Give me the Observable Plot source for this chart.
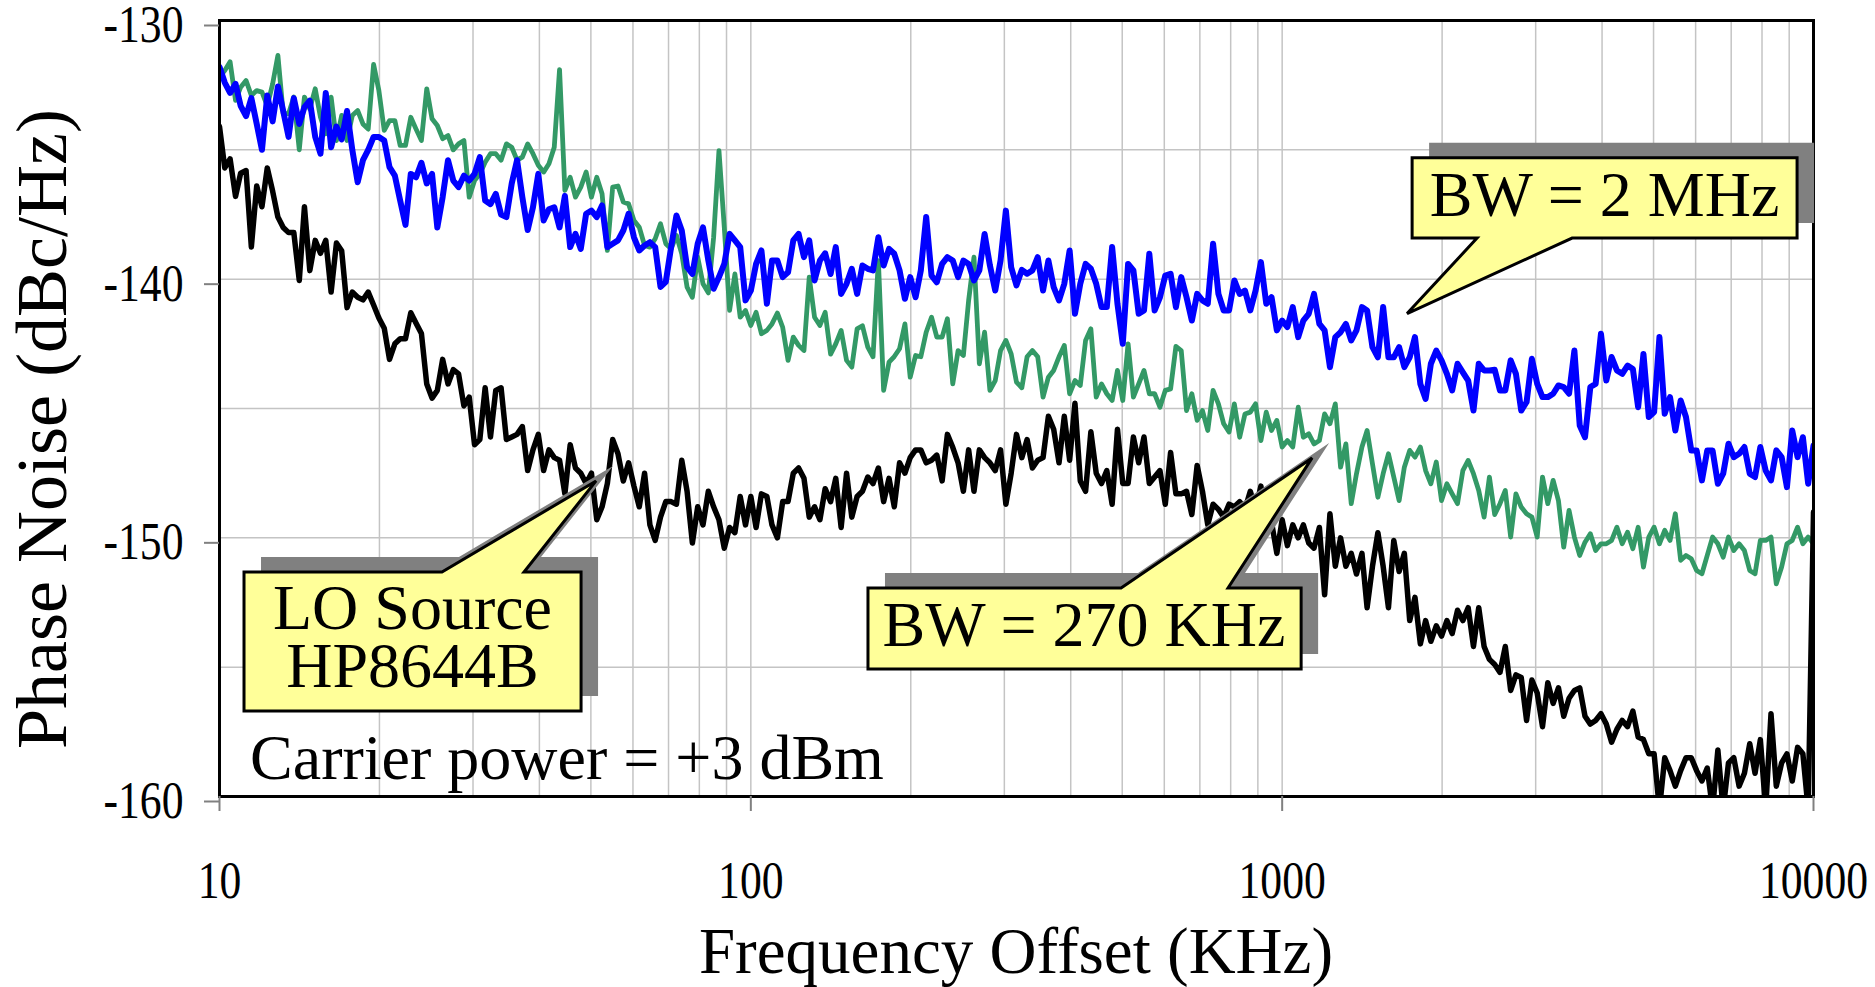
<!DOCTYPE html>
<html>
<head>
<meta charset="utf-8">
<script src="https://cdn.jsdelivr.net/npm/d3@7"></script>
<script src="https://cdn.jsdelivr.net/npm/@observablehq/plot@0.6"></script>
<style>
html, body { margin: 0; padding: 0; background: #ffffff; }
#chart { width: 1875px; height: 987px; }
</style>
</head>
<body>
<div id="chart"></div>
<script>
// Frequency offset (kHz) at which the three traces were read
const freqKHz = [
10, 10.23, 10.47, 10.72, 10.96, 11.22, 11.48, 11.75, 12.02, 12.3,
12.59, 12.88, 13.18, 13.49, 13.8, 14.13, 14.45, 14.79, 15.14, 15.49,
15.85, 16.22, 16.6, 16.98, 17.38, 17.78, 18.2, 18.62, 19.05, 19.5,
19.95, 20.42, 20.89, 21.38, 21.88, 22.39, 22.91, 23.44, 23.99, 24.55,
25.12, 25.7, 26.3, 26.92, 27.54, 28.18, 28.84, 29.51, 30.2, 30.9,
31.62, 32.36, 33.11, 33.88, 34.67, 35.48, 36.31, 37.15, 38.02, 38.9,
39.81, 40.74, 41.69, 42.66, 43.65, 44.67, 45.71, 46.77, 47.86, 48.98,
50.12, 51.29, 52.48, 53.7, 54.95, 56.23, 57.54, 58.88, 60.26, 61.66,
63.1, 64.57, 66.07, 67.61, 69.18, 70.79, 72.44, 74.13, 75.86, 77.62,
79.43, 81.28, 83.18, 85.11, 87.1, 89.13, 91.2, 93.33, 95.5, 97.72,
100, 102.3, 104.7, 107.2, 109.6, 112.2, 114.8, 117.5, 120.2, 123,
125.9, 128.8, 131.8, 134.9, 138, 141.3, 144.5, 147.9, 151.4, 154.9,
158.5, 162.2, 166, 169.8, 173.8, 177.8, 182, 186.2, 190.5, 195,
199.5, 204.2, 208.9, 213.8, 218.8, 223.9, 229.1, 234.4, 239.9, 245.5,
251.2, 257, 263, 269.2, 275.4, 281.8, 288.4, 295.1, 302, 309,
316.2, 323.6, 331.1, 338.8, 346.7, 354.8, 363.1, 371.5, 380.2, 389,
398.1, 407.4, 416.9, 426.6, 436.5, 446.7, 457.1, 467.7, 478.6, 489.8,
501.2, 512.9, 524.8, 537, 549.5, 562.3, 575.4, 588.8, 602.6, 616.6,
631, 645.7, 660.7, 676.1, 691.8, 707.9, 724.4, 741.3, 758.6, 776.2,
794.3, 812.8, 831.8, 851.1, 871, 891.3, 912, 933.3, 955, 977.2,
1000, 1023, 1047, 1072, 1096, 1122, 1148, 1175, 1202, 1230,
1259, 1288, 1318, 1349, 1380, 1413, 1445, 1479, 1514, 1549,
1585, 1622, 1660, 1698, 1738, 1778, 1820, 1862, 1905, 1950,
1995, 2042, 2089, 2138, 2188, 2239, 2291, 2344, 2399, 2455,
2512, 2570, 2630, 2692, 2754, 2818, 2884, 2951, 3020, 3090,
3162, 3236, 3311, 3388, 3467, 3548, 3631, 3715, 3802, 3890,
3981, 4074, 4169, 4266, 4365, 4467, 4571, 4677, 4786, 4898,
5012, 5129, 5248, 5370, 5495, 5623, 5754, 5888, 6026, 6166,
6310, 6457, 6607, 6761, 6918, 7079, 7244, 7413, 7586, 7762,
7943, 8128, 8318, 8511, 8710, 8913, 9120, 9333, 9550, 9772,
10000
];

// LO Source HP8644B (black), dBc/Hz
const loSource = [
-134.1, -135.7, -135.35, -136.8, -135.9, -135.8, -138.76, -136.4, -137.2, -135.7,
-136.6, -137.6, -138.0, -138.2, -138.2, -140.05, -137.2, -139.67, -138.5, -139.0,
-138.5, -140.5, -138.6, -138.9, -141.1, -140.5, -140.7, -140.8, -140.5, -141.0,
-141.5, -141.9, -143.1, -142.5, -142.3, -142.3, -141.3, -141.7, -142.1, -144.05,
-144.6, -144.3, -143.1, -144.05, -143.5, -143.66, -144.9, -144.56, -146.4, -146.2,
-144.2, -146.1, -144.3, -144.2, -146.2, -146.1, -146.0, -145.7, -147.4, -146.6,
-146.0, -147.4, -146.6, -146.9, -147.0, -148.3, -146.4, -147.3, -147.5, -147.9,
-147.5, -149.3, -148.8, -147.9, -146.2, -146.75, -147.8, -147.1, -148.0, -148.8,
-147.5, -149.5, -150.1, -149.2, -148.6, -148.6, -148.7, -147.0, -148.2, -150.2,
-148.8, -149.5, -148.2, -148.8, -149.3, -150.4, -149.6, -149.8, -148.4, -149.5,
-148.4, -149.6, -148.3, -148.4, -149.5, -150.0, -148.6, -148.6, -147.5, -147.3,
-147.7, -149.2, -148.8, -149.3, -148.1, -148.6, -147.7, -149.6, -147.5, -149.2,
-148.4, -148.2, -147.65, -147.9, -147.3, -148.6, -147.7, -148.8, -147.1, -147.5,
-146.9, -146.6, -146.6, -147.1, -147.0, -146.8, -147.8, -146.0, -146.5, -147.1,
-148.2, -146.6, -148.2, -146.6, -146.9, -147.1, -147.4, -146.6, -148.7, -147.5,
-146.0, -146.9, -146.2, -147.3, -147.0, -146.9, -145.3, -145.8, -147.1, -145.3,
-147.0, -144.8, -147.8, -148.2, -145.9, -147.5, -147.9, -147.4, -148.7, -145.8,
-147.9, -147.9, -146.1, -147.1, -146.1, -147.9, -147.65, -147.4, -148.7, -146.7,
-148.3, -148.3, -148.2, -149.1, -147.2, -148.2, -149.5, -148.7, -148.9, -149.2,
-148.7, -148.8, -148.6, -148.9, -148.2, -148.9, -148.0, -149.5, -149.4, -150.6,
-149.3, -150.3, -149.5, -150.0, -149.5, -150.2, -150.4, -149.6, -152.2, -149.07,
-151.1, -150.0, -151.1, -150.6, -151.4, -150.6, -152.7, -151.1, -149.8, -151.1,
-152.7, -150.1, -151.3, -150.6, -153.2, -152.3, -154.1, -153.2, -154.0, -153.4,
-153.8, -153.2, -153.7, -152.8, -153.2, -152.7, -154.2, -152.7, -154.2, -154.7,
-154.9, -155.2, -154.2, -155.9, -155.3, -155.4, -157.06, -155.5, -156.0, -157.3,
-155.6, -156.4, -155.8, -156.9, -156.2, -155.9, -155.8, -156.9, -157.2, -157.06,
-156.8, -157.2, -157.9, -157.4, -157.06, -157.3, -156.7, -157.7, -157.8, -158.35,
-158.35, -160.5, -158.5, -159.0, -159.6, -159.0, -158.5, -158.5, -159.0, -159.4,
-158.9, -160.5, -158.2, -160.5, -158.7, -158.5, -159.6, -159.1, -157.96, -159.1,
-157.8, -160.5, -156.8, -159.6, -158.7, -158.35, -159.4, -158.1, -158.35, -160.5,
-149.0
];

// BW = 2 MHz (blue), dBc/Hz
const bw2MHz = [
-131.8, -132.4, -132.8, -132.45, -133.3, -133.7, -133.0, -134.0, -135.0, -132.9,
-133.9, -132.55, -133.5, -134.5, -133.0, -134.0, -133.35, -133.1, -134.5, -135.15,
-132.8, -134.9, -134.1, -134.6, -133.5, -135.0, -136.25, -135.4, -135.0, -134.5,
-134.5, -134.64, -135.67, -136.0, -136.96, -137.9, -135.93, -136.06, -135.5, -136.3,
-135.93, -138.0, -136.83, -135.4, -136.19, -136.44, -136.0, -136.19, -135.93, -135.28,
-136.96, -137.1, -136.7, -137.5, -137.6, -136.3, -135.4, -136.83, -138.1, -137.22,
-135.93, -137.73, -137.3, -137.22, -138.0, -136.78, -138.76, -138.25, -138.83, -137.47,
-137.35, -137.6, -137.15, -138.76, -138.63, -138.5, -138.12, -137.47, -138.38, -138.89,
-138.7, -138.57, -138.76, -140.3, -140.1, -138.76, -137.54, -138.12, -139.54, -139.8,
-138.63, -138.0, -139.28, -140.37, -139.92, -139.41, -138.25, -138.5, -138.76, -140.82,
-140.44, -139.41, -138.89, -140.95, -139.28, -139.28, -139.92, -139.73, -138.5, -138.25,
-139.15, -138.5, -140.05, -139.28, -139.0, -139.8, -138.76, -140.57, -140.18, -139.6,
-140.57, -139.47, -139.6, -139.66, -138.38, -139.47, -138.83, -139.02, -139.66, -140.76,
-139.92, -140.7, -139.66, -137.6, -139.86, -140.12, -139.41, -139.15, -139.28, -139.92,
-139.28, -139.41, -140.05, -139.66, -138.25, -139.47, -140.44, -139.28, -137.35, -139.54,
-140.24, -139.64, -139.79, -139.66, -139.15, -140.44, -139.28, -140.31, -140.82, -140.18,
-138.89, -141.34, -140.18, -139.41, -139.6, -140.18, -141.08, -141.08, -138.76, -140.95,
-142.5, -139.41, -139.66, -141.34, -141.21, -139.02, -141.21, -140.7, -139.86, -139.79,
-141.08, -139.92, -140.7, -141.6, -140.57, -140.82, -140.95, -138.63, -140.57, -141.21,
-141.21, -140.05, -140.57, -140.44, -141.21, -140.44, -139.34, -140.95, -140.7, -141.98,
-141.6, -141.85, -141.08, -142.24, -141.6, -141.34, -140.57, -141.73, -141.98, -143.4,
-142.24, -142.05, -141.73, -142.37, -141.98, -141.08, -141.21, -142.63, -143.02, -141.08,
-143.02, -143.02, -142.63, -143.4, -143.02, -142.24, -144.05, -144.63, -143.27, -142.76,
-143.14, -143.66, -144.3, -143.27, -143.6, -143.92, -145.08, -143.27, -143.53, -143.53,
-143.5, -144.3, -144.3, -143.14, -143.66, -145.08, -144.75, -143.08, -144.05, -144.56,
-144.56, -144.43, -144.11, -144.17, -144.43, -142.76, -145.66, -146.11, -144.17, -144.05,
-142.11, -143.92, -143.01, -143.53, -143.66, -143.34, -143.47, -144.95, -142.89, -145.33,
-145.14, -142.24, -145.2, -144.56, -145.85, -144.69, -145.33, -146.62, -146.62, -147.78,
-146.62, -146.62, -147.91, -147.52, -146.36, -146.88, -146.75, -146.49, -147.52, -147.65,
-146.49, -147.4, -147.78, -146.62, -146.88, -148.04, -145.85, -146.88, -146.11, -147.91,
-146.43
];

// BW = 270 KHz (green), dBc/Hz
const bw270kHz = [
-132.19, -131.93, -131.6, -133.09, -132.58, -132.32, -132.9, -132.71, -132.77, -133.3,
-132.45, -131.35, -133.6, -133.6, -132.96, -135.0, -132.96, -133.42, -132.64, -133.74,
-134.38, -132.96, -134.64, -133.67, -134.64, -133.67, -133.48, -134.0, -134.2, -131.7,
-132.71, -134.25, -133.87, -133.87, -134.83, -134.83, -133.74, -134.2, -134.64, -132.64,
-133.8, -134.06, -134.57, -134.45, -135.0, -134.77, -134.64, -136.83, -136.19, -135.93,
-135.48, -135.15, -135.15, -135.4, -134.77, -134.9, -135.4, -135.28, -134.77, -135.15,
-135.6, -135.86, -135.54, -134.9, -131.9, -136.57, -136.06, -136.83, -136.44, -135.86,
-136.83, -136.06, -136.7, -138.89, -136.44, -136.4, -137.02, -137.09, -137.73, -137.99,
-138.7, -138.76, -138.44, -137.86, -138.63, -138.83, -138.31, -139.02, -140.31, -140.7,
-139.15, -140.18, -140.53, -138.38, -135.03, -137.99, -141.21, -139.8, -141.47, -141.21,
-141.79, -141.28, -142.11, -141.98, -141.73, -141.31, -141.86, -143.14, -142.24, -142.56,
-142.76, -139.92, -141.47, -141.79, -141.28, -142.9, -142.5, -141.98, -143.14, -143.4,
-141.92, -141.8, -142.63, -143.0, -139.28, -144.3, -143.21, -142.99, -142.69, -141.73,
-143.79, -142.95, -143.0, -142.05, -141.47, -142.24, -142.24, -141.53, -144.05, -142.76,
-142.95, -140.82, -139.15, -143.27, -142.05, -144.3, -143.92, -142.76, -142.37, -142.89,
-143.98, -144.2, -143.0, -142.76, -143.0, -144.56, -143.79, -143.53, -143.0, -142.56,
-144.43, -143.92, -144.11, -142.37, -141.92, -144.56, -144.05, -144.43, -144.69, -143.53,
-144.69, -142.5, -144.56, -144.05, -143.53, -144.43, -144.43, -144.95, -144.3, -144.24,
-142.6, -142.76, -145.08, -144.43, -145.46, -145.08, -145.85, -144.3, -144.82, -145.59,
-145.91, -144.82, -146.11, -145.21, -145.14, -144.82, -146.24, -145.14, -145.85, -145.46,
-146.49, -146.24, -146.49, -144.95, -146.11, -145.98, -146.37, -146.24, -145.21, -145.59,
-144.82, -147.27, -146.37, -148.68, -147.52, -146.49, -145.85, -147.14, -148.43, -147.52,
-146.75, -147.65, -148.56, -147.27, -146.62, -146.88, -146.49, -147.4, -147.91, -147.07,
-148.56, -147.91, -148.3, -148.68, -147.4, -147.01, -147.52, -148.17, -149.2, -147.65,
-149.1, -148.68, -148.17, -149.97, -148.3, -148.81, -149.07, -149.2, -149.97, -147.65,
-148.68, -147.78, -148.56, -150.36, -148.94, -149.97, -150.68, -150.17, -149.84, -150.49,
-150.23, -150.23, -150.1, -149.59, -150.23, -149.78, -150.42, -149.59, -151.13, -149.97,
-149.59, -150.23, -149.71, -150.1, -149.07, -150.87, -150.68, -150.81, -151.26, -151.39,
-150.68, -149.97, -150.23, -150.75, -149.97, -150.49, -150.23, -150.49, -151.26, -151.39,
-150.1, -150.1, -149.97, -151.78, -151.13, -150.23, -150.1, -149.59, -150.23, -149.97,
-150.23
];

const xTicks = [10, 100, 1000, 10000];
const yTicks = [-160, -150, -140, -130];
const xGrid = [20, 30, 40, 50, 60, 70, 80, 90, 100, 200, 300, 400, 500, 600, 700, 800, 900,
               1000, 2000, 3000, 4000, 5000, 6000, 7000, 8000, 9000];
const yGrid = [-155, -150, -145, -140, -135];

const xTitle = "Frequency Offset (KHz)";
const yTitle = "Phase Noise (dBc/Hz)";
const carrierNote = {text: "Carrier power = +3 dBm", x: 11.44, y: -159.36};

// Callouts in data coordinates (kHz, dBc/Hz)
const callouts = [
  {lines: ["BW = 2 MHz"], box: [1760, 9333, -135.33, -138.43], side: "bottom",
   base: [2332, 3521], tip: [1722, -141.35], textX: 4052, baselines: [-137.57]},
  {lines: ["BW = 270 KHz"], box: [166.5, 1088, -151.96, -155.09], side: "top",
   base: [498.6, 792.6], tip: [1141, -146.93], textX: 424.6, baselines: [-154.22]},
  {lines: ["LO Source", "HP8644B"], box: [11.145, 48.02, -151.34, -156.71], side: "top",
   base: [26.28, 37.5], tip: [51.24, -147.82], textX: 23.13, baselines: [-153.56, -155.8]}
];

const FONT = "'Liberation Serif', 'Times New Roman', serif";

const chart = Plot.plot({
  width: 1875,
  height: 987,
  marginLeft: 219,
  marginRight: 62,
  marginTop: 20,
  marginBottom: 191,
  style: {fontFamily: FONT, background: "#ffffff", color: "#000000"},
  x: {type: "log", domain: [10, 10000]},
  y: {domain: [-160, -130]},
  marks: [
    Plot.gridX(xGrid, {stroke: "#c4c4c4", strokeOpacity: 1, strokeWidth: 1.5}),
    Plot.gridY(yGrid, {stroke: "#c4c4c4", strokeOpacity: 1, strokeWidth: 1.5}),
    Plot.line(freqKHz, {x: d => d, y: (d, i) => bw270kHz[i], stroke: "#339966", strokeWidth: 4.8, clip: true}),
    Plot.line(freqKHz, {x: d => d, y: (d, i) => bw2MHz[i], stroke: "#0000ff", strokeWidth: 6, clip: true}),
    Plot.line(freqKHz, {x: d => d, y: (d, i) => loSource[i], stroke: "#000000", strokeWidth: 5.5, clip: true}),
    Plot.frame({stroke: "#000000", strokeWidth: 3}),
    Plot.axisX(xTicks, {anchor: "bottom", tickSize: 15, tickPadding: 50, stroke: "#808080", strokeWidth: 2,
      fill: "#000000", fontSize: 52, tickFormat: d => String(d), label: null}),
    Plot.axisY(yTicks, {anchor: "left", tickSize: 15, tickPadding: 21, stroke: "#808080", strokeWidth: 2,
      fill: "#000000", fontSize: 52, dy: 5, tickFormat: d => String(d), label: null})
  ]
});

document.getElementById("chart").append(chart);

// condensed tick labels as in the original: wrap each label in a group that
// squeezes it horizontally about its anchor point
try {
  const svgRect = chart.getBoundingClientRect();
  chart.querySelectorAll('g[aria-label*="tick label"] text').forEach(t => {
    const r = t.getBoundingClientRect();
    const anchor = getComputedStyle(t).textAnchor;
    const px = anchor === "end" ? r.right : anchor === "start" ? r.left : (r.left + r.right) / 2;
    const pt = chart.createSVGPoint();
    pt.x = px - svgRect.left;
    pt.y = (r.top + r.bottom) / 2 - svgRect.top;
    const ctm = t.parentNode.getCTM();
    const lp = ctm ? pt.matrixTransform(ctm.inverse()) : pt;
    const g = document.createElementNS("http://www.w3.org/2000/svg", "g");
    t.parentNode.insertBefore(g, t);
    g.appendChild(t);
    g.setAttribute("transform", `translate(${lp.x.toFixed(2)},0) scale(0.84,1) translate(${(-lp.x).toFixed(2)},0)`);
  });
} catch (e) { /* keep labels unsqueezed */ }

const sx = chart.scale("x"), sy = chart.scale("y");
const X = v => sx.apply(v), Y = v => sy.apply(v);
const svg = d3.select(chart);
const [fx1, fx2] = sx.range;
const [fyb, fyt] = sy.range;

svg.append("defs").append("clipPath").attr("id", "frameClip")
  .append("rect").attr("x", Math.min(fx1, fx2)).attr("y", Math.min(fyb, fyt))
  .attr("width", Math.abs(fx2 - fx1)).attr("height", Math.abs(fyb - fyt));

function calloutPath(c) {
  const x1 = X(c.box[0]), x2 = X(c.box[1]), yt = Y(c.box[2]), yb = Y(c.box[3]);
  const b1 = X(c.base[0]), b2 = X(c.base[1]), tx = X(c.tip[0]), ty = Y(c.tip[1]);
  if (c.side === "bottom")
    return `M${x1},${yt}L${x2},${yt}L${x2},${yb}L${b2},${yb}L${tx},${ty}L${b1},${yb}L${x1},${yb}Z`;
  return `M${x1},${yt}L${b1},${yt}L${tx},${ty}L${b2},${yt}L${x2},${yt}L${x2},${yb}L${x1},${yb}Z`;
}

const ann = svg.append("g").attr("class", "annotations");
for (const c of callouts) {
  const p = calloutPath(c);
  ann.append("path").attr("d", p).attr("fill", "#808080")
    .attr("transform", "translate(17,-15)").attr("clip-path", "url(#frameClip)");
  ann.append("path").attr("d", p).attr("fill", "#ffff99")
    .attr("stroke", "#000000").attr("stroke-width", 3).attr("stroke-linejoin", "miter");
  c.lines.forEach((line, i) => {
    ann.append("text").attr("x", X(c.textX)).attr("y", Y(c.baselines[i]))
      .attr("text-anchor", "middle").attr("font-family", FONT).attr("font-size", 64)
      .attr("fill", "#000000").text(line);
  });
}

ann.append("text").attr("x", X(carrierNote.x)).attr("y", Y(carrierNote.y))
  .attr("text-anchor", "start").attr("font-family", FONT).attr("font-size", 64)
  .attr("fill", "#000000").text(carrierNote.text);

// axis titles
svg.append("text").attr("x", (fx1 + fx2) / 2).attr("y", 973)
  .attr("text-anchor", "middle").attr("font-family", FONT).attr("font-size", 65)
  .attr("fill", "#000000").text(xTitle);
svg.append("text").attr("transform", "translate(66,429) rotate(-90)")
  .attr("text-anchor", "middle").attr("font-family", FONT).attr("font-size", 72)
  .attr("fill", "#000000").text(yTitle);
</script>
</body>
</html>
